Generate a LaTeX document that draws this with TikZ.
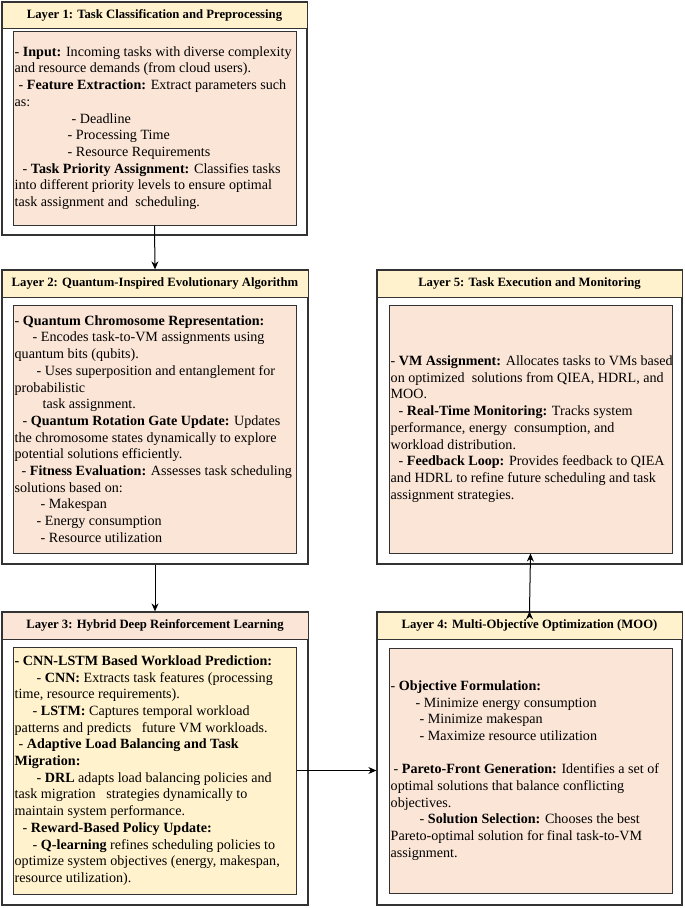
\documentclass[tikz,border=0pt]{standalone}
\usepackage{fontspec}
\setmainfont{Liberation Serif}
\usepackage{tikz}
\usetikzlibrary{arrows.meta}
\usetikzlibrary{calc}

\definecolor{peach}{HTML}{FBE5D6}
\definecolor{cream}{HTML}{FFF2CC}
\definecolor{edgegray}{HTML}{333333}

\tikzset{
  layerbox/.style={draw=edgegray, line width=1.3pt, fill=white, inner sep=0pt},
  headbox/.style={draw=edgegray, line width=1pt, inner sep=0pt, font=\fontsize{12.7}{14}\selectfont\bfseries},
  bodybox/.style={draw=edgegray, line width=1pt, inner sep=0pt},
  bodytext/.style={align=left, inner sep=2pt, anchor=west, font=\fontsize{14.1}{16.7}\selectfont},
}

\begin{document}
\begin{tikzpicture}[x=1pt, y=-1pt]
\useasboundingbox (0,0) rectangle (685,908);

%layer 1
\node[layerbox, minimum width=305pt, minimum height=233pt] (l1) at (154.5,118.5) {};
\node[headbox, fill=cream, minimum width=305pt, minimum height=26pt] (l1head) at (154.5,15) {Layer 1: Task Classification and Preprocessing};
\node[bodybox, fill=peach, minimum width=283pt, minimum height=194pt] (l1body) at (154.5,128) {};
\node[bodytext] (l1txt) at (l1body.west) {%
- \textbf{Input:} Incoming tasks with diverse complexity\\
and resource demands (from cloud users).\\
\hspace{4pt}- \textbf{Feature Extraction:} Extract parameters such\\
as:\\
\hspace{57pt}- Deadline\\
\hspace{53pt}- Processing Time\\
\hspace{53pt}- Resource Requirements\\
\hspace{8pt}- \textbf{Task Priority Assignment:} Classifies tasks\\
into different priority levels to ensure optimal\\
task assignment and\ \ scheduling.};

%layer 2
\node[layerbox, minimum width=306pt, minimum height=294pt] (l2) at (155,417) {};
\node[headbox, fill=cream, minimum width=306pt, minimum height=27pt] (l2head) at (155,283.5) {Layer 2: Quantum-Inspired Evolutionary Algorithm};
\node[bodybox, fill=peach, minimum width=283pt, minimum height=248pt] (l2body) at (154.5,429) {};
\node[bodytext] (l2txt) at (l2body.west) {%
- \textbf{Quantum Chromosome Representation:}\\
\hspace{18pt}- Encodes task-to-VM assignments using\\
quantum bits (qubits).\\
\hspace{22pt}- Uses superposition and entanglement for\\
probabilistic\\
\hspace{28pt}task assignment.\\
\hspace{8pt}- \textbf{Quantum Rotation Gate Update:} Updates\\
the chromosome states dynamically to explore\\
potential solutions efficiently.\\
\hspace{7pt}- \textbf{Fitness Evaluation:} Assesses task scheduling\\
solutions based on:\\
\hspace{26pt}- Makespan\\
\hspace{22pt}- Energy consumption\\
\hspace{26pt}- Resource utilization};

%layer 3
\node[layerbox, minimum width=306pt, minimum height=293pt] (l3) at (155,758.5) {};
\node[headbox, fill=peach, minimum width=306pt, minimum height=27pt] (l3head) at (155,625.5) {Layer 3: Hybrid Deep Reinforcement Learning};
\node[bodybox, fill=cream, minimum width=283pt, minimum height=247pt] (l3body) at (154.5,770.5) {};
\node[bodytext] (l3txt) at (l3body.west) {%
\textbf{- CNN-LSTM Based Workload Prediction:}\\
\hspace{22pt}- \textbf{CNN:} Extracts task features (processing\\
time, resource requirements).\\
\hspace{18pt}- \textbf{LSTM:} Captures temporal workload\\
patterns and predicts\ \ \ future VM workloads.\\
\hspace{4pt}- \textbf{Adaptive Load Balancing and Task}\\
\textbf{Migration:}\\
\hspace{22pt}- \textbf{DRL} adapts load balancing policies and\\
task migration\ \ \ strategies dynamically to\\
maintain system performance.\\
\hspace{8pt}- \textbf{Reward-Based Policy Update:}\\
\hspace{18pt}- \textbf{Q-learning} refines scheduling policies to\\
optimize system objectives (energy, makespan,\\
resource utilization).};

%layer 4
\node[layerbox, minimum width=305pt, minimum height=293pt] (l4) at (529.5,758.5) {};
\node[headbox, fill=cream, minimum width=305pt, minimum height=27pt] (l4head) at (529.5,625.5) {Layer 4: Multi-Objective Optimization (MOO)};
\node[bodybox, fill=peach, minimum width=283pt, minimum height=245pt] (l4body) at (530.5,770.5) {};
\node[bodytext] (l4txt) at (l4body.west) {%
- \textbf{Objective Formulation:}\\
\hspace{25pt}- Minimize energy consumption\\
\hspace{29pt}- Minimize makespan\\
\hspace{29pt}- Maximize resource utilization\\[16.7pt]
\hspace{3pt}- \textbf{Pareto-Front Generation:} Identifies a set of\\
optimal solutions that balance conflicting\\
objectives.\\
\hspace{29pt}- \textbf{Solution Selection:} Chooses the best\\
Pareto-optimal solution for final task-to-VM\\
assignment.};

%layer 5
\node[layerbox, minimum width=305pt, minimum height=294pt] (l5) at (529.5,417) {};
\node[headbox, fill=cream, minimum width=305pt, minimum height=27pt] (l5head) at (529.5,283.5) {Layer 5: Task Execution and Monitoring};
\node[bodybox, fill=peach, minimum width=283pt, minimum height=248pt] (l5body) at (530.5,429) {};
\node[bodytext] (l5txt) at (l5body.west) {%
- \textbf{VM Assignment:} Allocates tasks to VMs based\\
on optimized\ \ solutions from QIEA, HDRL, and\\
MOO.\\
\hspace{8pt}- \textbf{Real-Time Monitoring:} Tracks system\\
performance, energy\ \ consumption, and\\
workload distribution.\\
\hspace{8pt}- \textbf{Feedback Loop:} Provides feedback to QIEA\\
and HDRL to refine future scheduling and task\\
assignment strategies.};

\path[->, >={Stealth[length=8pt, width=7pt]}, draw=black, line width=1pt]
(l1body.south) edge (l2.north)
(l2.south) edge (l3.north)
(l3body.east) edge (l3body.east -| l4.west)
(l4.north) edge (l5body.south)
;
\end{tikzpicture}
\end{document}
